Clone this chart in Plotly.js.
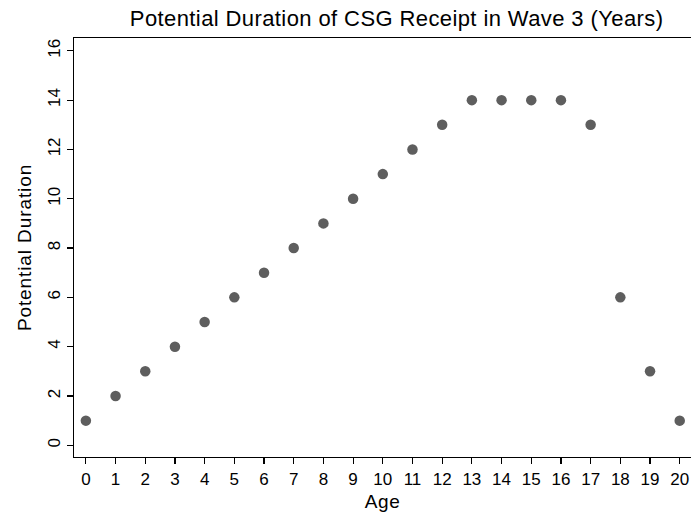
<!DOCTYPE html>
<html>
<head>
<meta charset="utf-8">
<script src="https://cdn.plot.ly/plotly-3.0.1.min.js"></script>
<style>
html,body{margin:0;padding:0;background:#fff;}
.gtitle{letter-spacing:0.4px;}
.xtitle{letter-spacing:0.6px;}
.ytitle{letter-spacing:0.9px;}
</style>
</head>
<body>
<div id="chart" style="width:691px;height:516px;"></div>
<script>
var ages = [0,1,2,3,4,5,6,7,8,9,10,11,12,13,14,15,16,17,18,19,20];
var duration = [1,2,3,4,5,6,7,8,9,10,11,12,13,14,14,14,14,13,6,3,1];
var xTicks = [0,1,2,3,4,5,6,7,8,9,10,11,12,13,14,15,16,17,18,19,20];
var yTicks = [0,2,4,6,8,10,12,14,16];

var fontFam = 'Liberation Sans, Arial, Helvetica, sans-serif';
var trace = {
  x: ages, y: duration, type: 'scatter', mode: 'markers',
  marker: {color: '#5e5e5e', size: 10.5},
  hoverinfo: 'none'
};
var layout = {
  width: 691, height: 516,
  margin: {l: 74, r: 0, t: 38, b: 59},
  paper_bgcolor: '#ffffff', plot_bgcolor: '#ffffff',
  showlegend: false,
  font: {family: fontFam, color: '#000'},
  title: {text: 'Potential Duration of CSG Receipt in Wave 3 (Years)', font: {size: 22, family: fontFam, color: '#000'}, x: 0.574, xref: 'container', xanchor: 'center', y: 0.965, yref: 'container', yanchor: 'middle'},
  xaxis: {
    range: [-0.4, 20.38], tickvals: xTicks, ticktext: xTicks.map(String),
    showgrid: false, zeroline: false, showline: true, linecolor: '#000', linewidth: 1.3, mirror: true,
    ticks: 'outside', ticklen: 6, tickcolor: '#000', tickwidth: 1.2,
    tickfont: {size: 17}, title: {text: 'Age', font: {size: 19}, standoff: 7}
  },
  yaxis: {
    range: [-0.475, 16.52], tickvals: yTicks, ticktext: yTicks.map(String),
    showgrid: false, zeroline: false, showline: true, linecolor: '#000', linewidth: 1.3,
    ticks: 'outside', ticklen: 6, tickcolor: '#000', tickwidth: 1.2, tickangle: -90,
    tickfont: {size: 17}, title: {text: 'Potential Duration', font: {size: 19}, standoff: 8}
  }
};
Plotly.newPlot('chart', [trace], layout, {staticPlot: true, displayModeBar: false});
</script>
</body>
</html>
